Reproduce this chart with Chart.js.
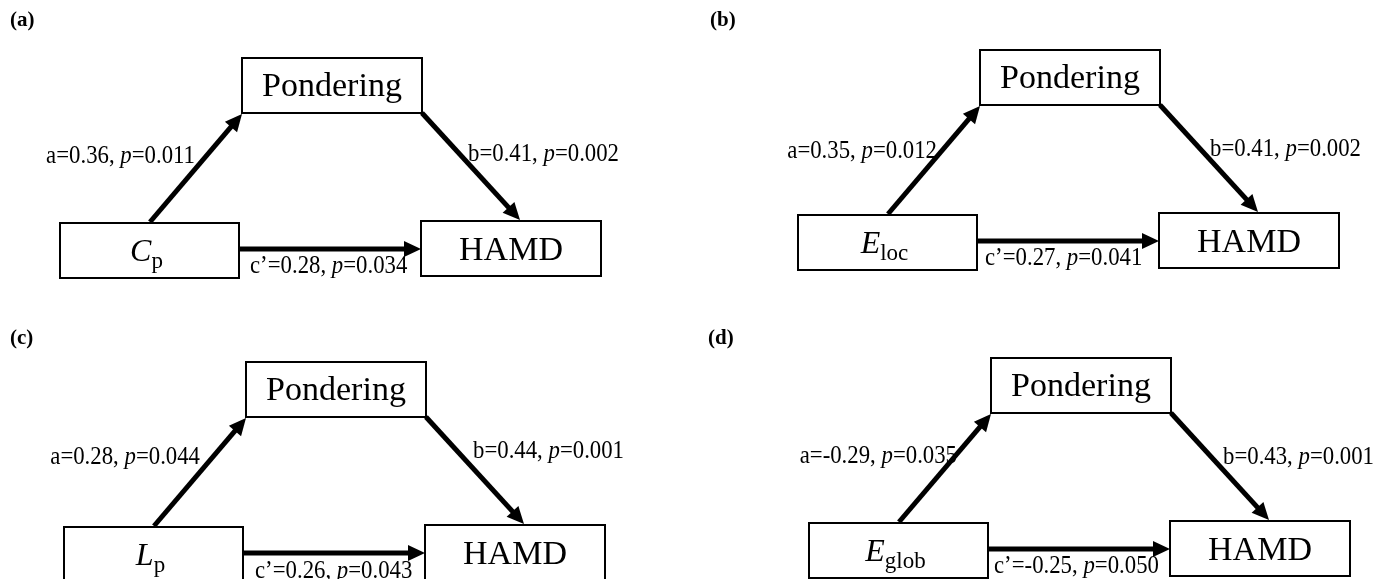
<!DOCTYPE html>
<html>
<head>
<meta charset="utf-8">
<title>Mediation models</title>
<script src="https://cdn.jsdelivr.net/npm/chart.js@4.4.0/dist/chart.umd.min.js"></script>
<style>
  html, body { margin: 0; padding: 0; background: #fff; }
  #wrap { width: 1386px; height: 579px; }
</style>
</head>
<body>
<div id="wrap"><canvas id="mediation" width="1386" height="579"></canvas></div>
<script>
// data, one entry per panel
const panelTags = ["(a)", "(b)", "(c)", "(d)"];
const predictorMain = ["C", "E", "L", "E"];
const predictorSub = ["p", "loc", "p", "glob"];
const mediatorName = "Pondering";
const outcomeName = "HAMD";
const aCoef = [0.36, 0.35, 0.28, -0.29];
const aP = [0.011, 0.012, 0.044, 0.035];
const bCoef = [0.41, 0.41, 0.44, 0.43];
const bP = [0.002, 0.002, 0.001, 0.001];
const cCoef = [0.28, 0.27, 0.26, -0.25];
const cP = [0.034, 0.041, 0.043, 0.050];

// layout (page units, the axes run 0..1386 and 0..579)
const W = 1386, H = 579;
const panelShift = [[0, 0], [738, -8], [4, 304], [749, 300]];
const tagPos = [[10, 21], [710, 21], [10, 339], [708, 339]];
const boxMed = [242, 58, 422, 113];
const boxX = [60, 223, 239, 278];
const boxY = [421, 221, 601, 276];
const edgeA = [[150, 222], [242, 114]];
const edgeB = [[422, 113], [520, 220]];
const edgeC = [[239, 249], [421, 249]];
const labelA = [[195, 157], [937, 152], [200, 458], [957, 457]];
const labelB = [[468, 155], [1210, 150], [473, 452], [1223, 458]];
const labelC = [[250, 267], [985, 259], [255, 572], [994, 567]];
const headLen = 17, headHalf = 8;

const serif = '"Liberation Serif", "Times New Roman", serif';

function shiftBox(b, s) {
  return [b[0] + s[0], b[1] + s[1], b[2] + s[0], b[3] + s[1]];
}
function boxPath(b) {
  return [
    { x: b[0], y: b[1] }, { x: b[2], y: b[1] }, { x: b[2], y: b[3] },
    { x: b[0], y: b[3] }, { x: b[0], y: b[1] }
  ];
}
function shiftEdge(e, s) {
  return [[e[0][0] + s[0], e[0][1] + s[1]], [e[1][0] + s[0], e[1][1] + s[1]]];
}
function shaft(e) {
  const dx = e[1][0] - e[0][0], dy = e[1][1] - e[0][1];
  const len = Math.hypot(dx, dy);
  const k = (len - headLen + 3) / len;
  return [{ x: e[0][0], y: e[0][1] }, { x: e[0][0] + dx * k, y: e[0][1] + dy * k }];
}

const boxes = [], edges = [], datasets = [];
panelTags.forEach((tag, i) => {
  const s = panelShift[i];
  const pb = { med: shiftBox(boxMed, s), x: shiftBox(boxX, s), y: shiftBox(boxY, s) };
  boxes.push(pb);
  [pb.med, pb.x, pb.y].forEach(b => datasets.push({
    data: boxPath(b), showLine: true, borderColor: "#000", borderWidth: 2,
    pointRadius: 0, fill: false, borderJoinStyle: "miter", borderCapStyle: "square"
  }));
  [edgeA, edgeB, edgeC].forEach(e => {
    const se = shiftEdge(e, s);
    edges.push(se);
    datasets.push({
      data: shaft(se), showLine: true, borderColor: "#000", borderWidth: 5,
      pointRadius: 0, fill: false, borderCapStyle: "butt"
    });
  });
});

// draws text pieces in a row, with an optional horizontal squeeze
function drawRuns(ctx, runs, x, y, align, squeeze) {
  const k = squeeze || 1;
  let total = 0;
  runs.forEach(r => { ctx.font = r.font; r.w = ctx.measureText(r.text).width * k; total += r.w; });
  let cx = align === "right" ? x - total : align === "center" ? x - total / 2 : x;
  runs.forEach(r => {
    ctx.font = r.font;
    ctx.save();
    ctx.translate(cx, y + (r.dy || 0));
    ctx.scale(k, 1);
    ctx.fillText(r.text, 0, 0);
    ctx.restore();
    cx += r.w;
  });
}

function pathRuns(letter, coef, p) {
  const f = "24.5px " + serif, fi = "italic 24.5px " + serif;
  return [
    { text: letter + "=" + coef.toFixed(2) + ", ", font: f },
    { text: "p", font: fi },
    { text: "=" + p.toFixed(3), font: f }
  ];
}

const diagramText = {
  id: "diagramText",
  afterDatasetsDraw(chart) {
    const ctx = chart.ctx;
    const sx = chart.scales.x, sy = chart.scales.y;
    const px = v => sx.getPixelForValue(v), py = v => sy.getPixelForValue(v);
    ctx.save();
    ctx.fillStyle = "#000";

    // arrow heads
    edges.forEach(e => {
      const x0 = px(e[0][0]), y0 = py(e[0][1]), x1 = px(e[1][0]), y1 = py(e[1][1]);
      const ang = Math.atan2(y1 - y0, x1 - x0);
      const c = Math.cos(ang), s = Math.sin(ang);
      ctx.beginPath();
      ctx.moveTo(x1, y1);
      ctx.lineTo(x1 - headLen * c + headHalf * s, y1 - headLen * s - headHalf * c);
      ctx.lineTo(x1 - headLen * c - headHalf * s, y1 - headLen * s + headHalf * c);
      ctx.closePath();
      ctx.fill();
    });

    panelTags.forEach((tag, i) => {
      const b = boxes[i];
      ctx.textBaseline = "middle";
      ctx.textAlign = "left";
      ctx.font = "bold 21px " + serif;
      ctx.fillText(tag, px(tagPos[i][0]), py(tagPos[i][1]));

      ctx.textBaseline = "alphabetic";
      drawRuns(ctx, [{ text: mediatorName, font: "34px " + serif }],
        px((b.med[0] + b.med[2]) / 2), py((b.med[1] + b.med[3]) / 2) + 10, "center");
      drawRuns(ctx, [{ text: outcomeName, font: "34px " + serif }],
        px((b.y[0] + b.y[2]) / 2), py((b.y[1] + b.y[3]) / 2) + 11, "center");
      drawRuns(ctx, [
        { text: predictorMain[i], font: "italic 32px " + serif },
        { text: predictorSub[i], font: "23px " + serif, dy: 7 }
      ], px((b.x[0] + b.x[2]) / 2) - 3, py((b.x[1] + b.x[3]) / 2) + 10, "center");

      ctx.textBaseline = "middle";
      drawRuns(ctx, pathRuns("a", aCoef[i], aP[i]), px(labelA[i][0]), py(labelA[i][1]), "right", 0.93);
      drawRuns(ctx, pathRuns("b", bCoef[i], bP[i]), px(labelB[i][0]), py(labelB[i][1]), "left", 0.93);
      drawRuns(ctx, pathRuns("c\u2019", cCoef[i], cP[i]), px(labelC[i][0]), py(labelC[i][1]), "left", 0.93);
    });
    ctx.restore();
  }
};

new Chart(document.getElementById("mediation"), {
  type: "scatter",
  data: { datasets: datasets },
  options: {
    responsive: false,
    animation: false,
    events: [],
    layout: { padding: 0 },
    plugins: { legend: { display: false }, tooltip: { enabled: false } },
    scales: {
      x: { type: "linear", min: 0, max: W, display: false },
      y: { type: "linear", min: 0, max: H, reverse: true, display: false }
    }
  },
  plugins: [diagramText]
});
</script>
</body>
</html>
